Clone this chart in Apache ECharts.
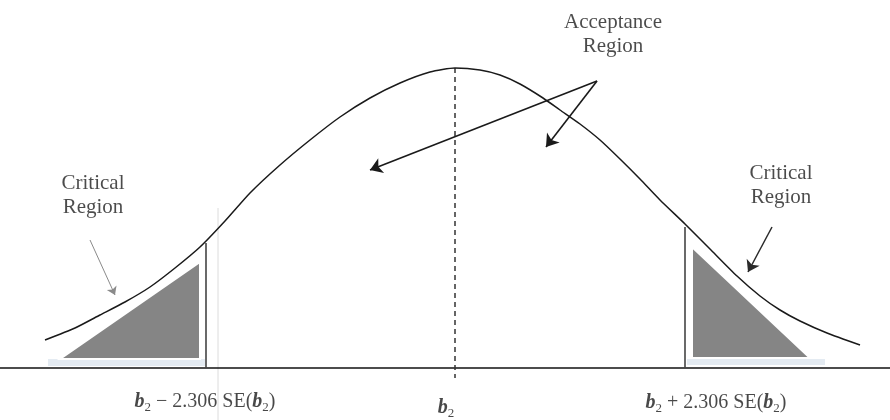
<!DOCTYPE html>
<html><head><meta charset="utf-8">
<script src="https://cdn.jsdelivr.net/npm/echarts@6/dist/echarts.min.js"></script>
<style>html,body{margin:0;padding:0;background:#fff}#c{width:890px;height:420px}</style>
</head><body><div id="c"></div>
<script>
// Density curve: [x, height above baseline]
const curve = [[45,28],[75,40],[100,53],[125,66],[150,81],[175,100],[200,121],[225,147],[250,175],[280,203],[310,228],[340,251],[370,270],[400,285],[430,296],[455,300],[480,298],[500,293],[520,284],[543,270],[560,258],[580,244],[600,228],[620,209],[640,189],[660,168],[685,144],[710,119],[737,92],[760,72],[780,58],[800,47],[827,35],[860,23]];
const criticalLeft = [[60,9],[200,106],[200,9]];
const criticalRight = [[692,121],[692,10],[810,10]];
const strips = [[[48,2],[205,9]],[[687,3],[825,9]]];
const criticalLines = [[206,125],[685,141]];
const centerLine = [[455,300],[455,-10]];
const faintLine = [[218,160],[218,-52]];
const baseline = [[0,0],[890,0]];
const acceptArrows = [[[597,287],[370,198]],[[597,287],[546,221]]];
const leftArrow = [[90,128],[115,73]];
const rightArrow = [[772,141],[748,96]];
const regionLabels = [['Acceptance\nRegion',613,334],['Critical\nRegion',93,173],['Critical\nRegion',781,183]];
const tickLabels = [
  ['{i|b}{s|2}{t| − 2.306 SE(}{i|b}{s|2}{t|)}',205,-34],
  ['{i|b}{s|2}',446,-40],
  ['{i|b}{s|2}{t| + 2.306 SE(}{i|b}{s|2}{t|)}',716,-35]
];

const serif = '"Liberation Serif", "DejaVu Serif", serif';
const chart = echarts.init(document.getElementById('c'));
const triangles = [criticalLeft, criticalRight];

function lineSeries(data, style, z) {
  return {type:'line', data:data, symbol:'none', silent:true, z:z||3, lineStyle:style, animation:false};
}
function arrow(pair, color, width, size) {
  return [{coord:pair[0], symbol:'none', lineStyle:{color:color, width:width, type:'solid'}},
          {coord:pair[1], symbol:'arrow', symbolSize:size}];
}

chart.setOption({
  animation:false,
  backgroundColor:'#fff',
  grid:{left:0,right:0,top:0,bottom:0},
  xAxis:{type:'value',min:0,max:890,show:false},
  yAxis:{type:'value',min:-52,max:368,show:false},
  series:[
    {type:'custom', silent:true, z:1, data:[0,1],
      renderItem:function(params, api){
        const s = strips[params.dataIndex];
        const p0 = api.coord(s[0]), p1 = api.coord(s[1]);
        return {type:'rect', shape:{x:p0[0], y:p1[1], width:p1[0]-p0[0], height:p0[1]-p1[1]}, style:{fill:'#e4ebf2'}};
      }},
    {type:'custom', silent:true, z:2, data:[0,1],
      renderItem:function(params, api){
        const pts = triangles[params.dataIndex].map(function(p){return api.coord(p);});
        return {type:'polygon', shape:{points:pts}, style:{fill:'#858585', stroke:'#fff', lineWidth:2}};
      }},
    lineSeries(faintLine, {color:'#dcdcdc', width:1}, 2),
    lineSeries(baseline, {color:'#111', width:1.6}),
    lineSeries([[criticalLines[0][0],0],criticalLines[0]], {color:'#444', width:1.6}),
    lineSeries([[criticalLines[1][0],0],criticalLines[1]], {color:'#444', width:1.6}),
    lineSeries(centerLine, {color:'#333', width:1.5, type:[5,4]}),
    {type:'line', data:curve, smooth:0.2, symbol:'none', silent:true, z:4,
      lineStyle:{color:'#1a1a1a', width:1.5},
      markLine:{silent:true, animation:false, label:{show:false},
        data:[
          arrow(acceptArrows[0], '#1a1a1a', 1.6, 12),
          arrow(acceptArrows[1], '#1a1a1a', 1.6, 12),
          arrow(leftArrow, '#8a8a8a', 1, 8),
          arrow(rightArrow, '#2a2a2a', 1.5, 11)
        ]}},
    {type:'scatter', silent:true, z:5, symbolSize:1, itemStyle:{color:'rgba(0,0,0,0)'},
      data:regionLabels.map(function(d){return {value:[d[1],d[2]], label:{formatter:d[0]}};}),
      label:{show:true, position:'inside', color:'#1e1e1e', fontFamily:serif, fontSize:21, lineHeight:24, align:'center'}},
    {type:'scatter', silent:true, z:5, symbolSize:1, itemStyle:{color:'rgba(0,0,0,0)'},
      data:tickLabels.map(function(d){return {value:[d[1],d[2]], label:{formatter:d[0]}};}),
      label:{show:true, position:'inside', color:'#1a1a1a',
        rich:{
          t:{fontFamily:serif, fontSize:20, lineHeight:24, color:'#1a1a1a'},
          i:{fontFamily:serif, fontSize:20, lineHeight:24, fontStyle:'italic', fontWeight:'bold', color:'#1a1a1a'},
          s:{fontFamily:serif, fontSize:13, lineHeight:14, verticalAlign:'bottom', color:'#1a1a1a'}
        }}}
  ]
});
</script></body></html>
